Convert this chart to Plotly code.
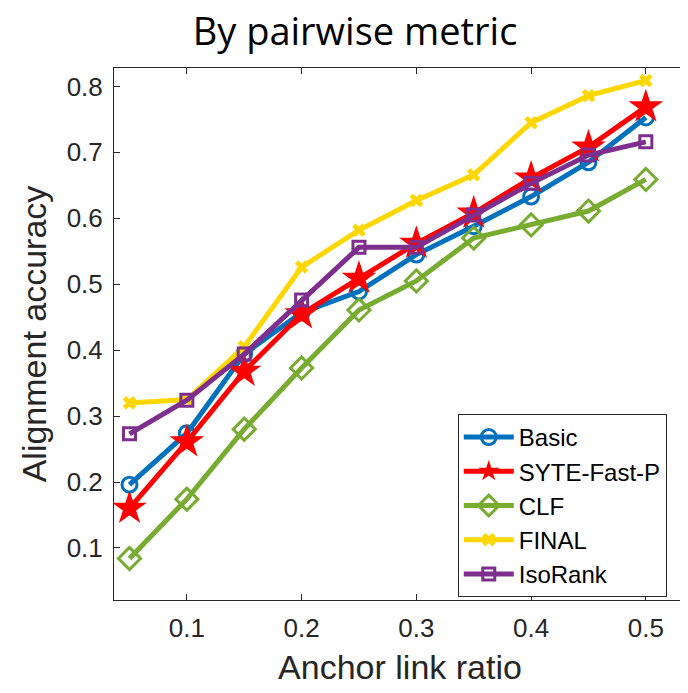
import plotly.graph_objects as go

ratios = [0.05, 0.10, 0.15, 0.20, 0.25, 0.30, 0.35, 0.40, 0.45, 0.50]
basic = [0.196, 0.274, 0.394, 0.457, 0.489, 0.545, 0.588, 0.633, 0.685, 0.753]
syte = [0.160, 0.261, 0.368, 0.455, 0.509, 0.562, 0.608, 0.661, 0.708, 0.769]
clf = [0.084, 0.174, 0.280, 0.373, 0.461, 0.505, 0.570, 0.590, 0.611, 0.659]
final = [0.320, 0.325, 0.405, 0.526, 0.582, 0.627, 0.666, 0.745, 0.786, 0.809]
isorank = [0.273, 0.324, 0.394, 0.476, 0.556, 0.556, 0.605, 0.653, 0.696, 0.716]

series = [
    ("Basic", basic, "#0072BD", "circle-open", 15),
    ("SYTE-Fast-P", syte, "#FF0000", "star", 26),
    ("CLF", clf, "#77AC30", "diamond-open", 17),
    ("FINAL", final, "#FFD700", "x", 12),
    ("IsoRank", isorank, "#7E2F8E", "square-open", 12),
]

fig = go.Figure()
for name, vals, color, sym, size in series:
    fig.add_trace(go.Scatter(
        x=ratios, y=vals, name=name, mode="lines+markers",
        line=dict(color=color, width=5),
        marker=dict(symbol=sym, size=size, color=color,
                    line=dict(color=color, width=3 if "open" in sym else 0)),
    ))

axis_common = dict(
    showline=True, linecolor="#262626", linewidth=1, mirror="ticks",
    ticks="inside", ticklen=6, tickcolor="#262626", showgrid=False, zeroline=False,
    automargin=False,
    tickfont=dict(family="Liberation Sans, Arial", size=26, color="#262626"),
)

fig.update_layout(
    width=688, height=693,
    paper_bgcolor="white", plot_bgcolor="white",
    margin=dict(l=106, r=10, t=60, b=101, autoexpand=False),
    title=dict(text="By pairwise metric", xref="container", yref="container",
               x=0.5044, y=0.966, xanchor="center", yanchor="middle",
               font=dict(family="Open Sans", size=38, color="black")),
    xaxis=dict(range=[0.0365, 0.535], tickvals=[0.1, 0.2, 0.3, 0.4, 0.5],
               ticktext=["0.1", "0.2", "0.3", "0.4", "0.5"], ticklabelstandoff=5,
               title=dict(text="Anchor link ratio", standoff=12,
                          font=dict(family="Liberation Sans, Arial", size=34, color="#262626")),
               **axis_common),
    yaxis=dict(range=[0.021, 0.828], tickvals=[0.1, 0.2, 0.3, 0.4, 0.5, 0.6, 0.7, 0.8],
               ticktext=["0.1", "0.2", "0.3", "0.4", "0.5", "0.6", "0.7", "0.8"], ticklabelstandoff=5,
               title=dict(text="Alignment accuracy", standoff=9,
                          font=dict(family="Liberation Sans, Arial", size=34, color="#262626")),
               **axis_common),
    legend=dict(x=0.601, y=0.3496, xanchor="left", yanchor="top",
                bgcolor="white", bordercolor="#262626", borderwidth=1,
                font=dict(family="Liberation Sans, Arial", size=24, color="black"),
                itemwidth=50, tracegroupgap=0),
    showlegend=True,
)

fig.write_html("out.html")
